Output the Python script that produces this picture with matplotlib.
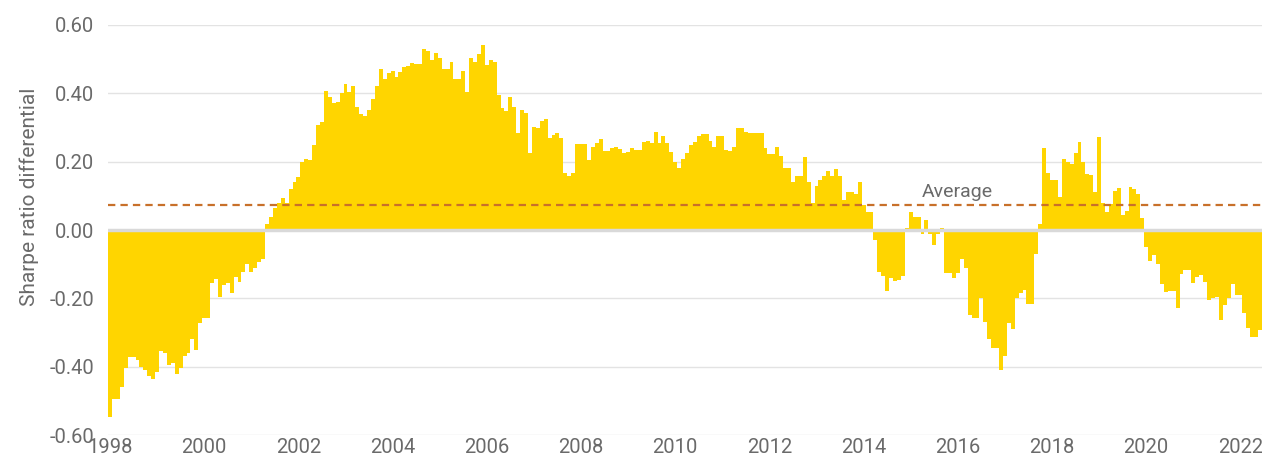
import matplotlib.pyplot as plt
import numpy as np

# monthly values, Jan 1998 .. Jun 2022
sharpe_diff = [
    -0.546, -0.496, -0.496, -0.459, -0.405, -0.371, -0.371, -0.38, -0.40, -0.41,
    -0.427, -0.437, -0.415, -0.354, -0.36, -0.395, -0.39, -0.42, -0.405, -0.37,
    -0.36, -0.32, -0.35, -0.273, -0.258, -0.258, -0.156, -0.144, -0.195, -0.161,
    -0.156, -0.183, -0.138, -0.151, -0.122, -0.10, -0.122, -0.112, -0.093, -0.086,
    0.017, 0.039, 0.065, 0.078, 0.093, 0.08, 0.119, 0.141, 0.156, 0.198,
    0.207, 0.205, 0.249, 0.307, 0.317, 0.408, 0.39, 0.371, 0.376, 0.401,
    0.426, 0.404, 0.421, 0.359, 0.339, 0.334, 0.351, 0.383, 0.421, 0.47,
    0.441, 0.459, 0.466, 0.449, 0.462, 0.476, 0.48, 0.488, 0.485, 0.485,
    0.529, 0.525, 0.498, 0.519, 0.503, 0.471, 0.471, 0.493, 0.441, 0.441,
    0.466, 0.405, 0.503, 0.493, 0.515, 0.541, 0.483, 0.498, 0.493, 0.395,
    0.356, 0.348, 0.39, 0.359, 0.285, 0.351, 0.341, 0.226, 0.301, 0.298,
    0.32, 0.324, 0.268, 0.278, 0.283, 0.268, 0.168, 0.158, 0.168, 0.252,
    0.252, 0.252, 0.205, 0.242, 0.254, 0.265, 0.231, 0.231, 0.239, 0.244,
    0.236, 0.224, 0.227, 0.239, 0.234, 0.234, 0.257, 0.261, 0.254, 0.288,
    0.256, 0.275, 0.254, 0.229, 0.2, 0.182, 0.207, 0.224, 0.249, 0.257,
    0.275, 0.28, 0.28, 0.261, 0.244, 0.275, 0.275, 0.234, 0.23, 0.244,
    0.298, 0.3, 0.288, 0.285, 0.285, 0.285, 0.283, 0.239, 0.222, 0.222,
    0.244, 0.216, 0.182, 0.182, 0.141, 0.158, 0.158, 0.213, 0.141, 0.078,
    0.129, 0.146, 0.158, 0.174, 0.158, 0.178, 0.158, 0.088, 0.11, 0.11,
    0.105, 0.141, 0.073, 0.054, 0.054, -0.029, -0.122, -0.135, -0.178, -0.141,
    -0.15, -0.146, -0.135, 0.005, 0.052, 0.037, 0.037, -0.012, 0.029, -0.012,
    -0.044, -0.012, 0.005, -0.127, -0.127, -0.141, -0.127, -0.086, -0.112, -0.249,
    -0.258, -0.258, -0.2, -0.268, -0.32, -0.346, -0.346, -0.41, -0.37, -0.273,
    -0.29, -0.2, -0.185, -0.176, -0.217, -0.217, -0.07, 0.017, 0.239, 0.168,
    0.146, 0.146, 0.098, 0.207, 0.2, 0.192, 0.224, 0.257, 0.198, 0.163,
    0.161, 0.112, 0.271, 0.08, 0.054, 0.076, 0.114, 0.122, 0.045, 0.057,
    0.127, 0.12, 0.105, 0.034, -0.049, -0.09, -0.073, -0.10, -0.158, -0.182,
    -0.179, -0.179, -0.227, -0.13, -0.117, -0.117, -0.156, -0.137, -0.132, -0.151,
    -0.205, -0.2, -0.195, -0.263, -0.22, -0.2, -0.158, -0.19, -0.19, -0.244,
    -0.288, -0.314, -0.314, -0.293,
]
average = 0.073
year_labels = [str(y) for y in range(1998, 2023, 2)]

plt.rcParams['font.family'] = ['Roboto', 'DejaVu Sans']
grey = '#6a6a6a'

fig = plt.figure(figsize=(12.62, 4.62), dpi=100)
ax = fig.add_axes([0.0856, 0.0584, 0.9144, 0.8875])

x = np.arange(len(sharpe_diff))
ax.bar(x, sharpe_diff, width=1.0, color='#FFD500', linewidth=0, zorder=2)
ax.axhline(0, color='#d9d9d9', linewidth=2.5, zorder=3)
ax.axhline(average, color='#c8702a', linewidth=1.6, linestyle=(0, (3.3, 2.3)), zorder=4)
ax.text(216, 0.086, 'Average', color=grey, fontsize=14, ha='center', va='bottom')

ax.set_xlim(-0.5, len(sharpe_diff) - 0.5)
ax.set_ylim(-0.6, 0.6)
ax.set_yticks(np.arange(-0.6, 0.61, 0.2))
ax.set_yticklabels(['%.2f' % v for v in np.arange(-0.6, 0.61, 0.2)])
ax.set_xticks(np.arange(0, len(sharpe_diff), 24))
ax.set_xticklabels(year_labels)
ax.grid(axis='y', color='#e3e3e3', linewidth=1, zorder=0)
ax.set_axisbelow(True)
ax.tick_params(length=0, labelsize=14.5, colors=grey, pad=10)
ax.tick_params(axis='x', pad=2)
for s in ax.spines.values():
    s.set_visible(False)
ax.set_ylabel('Sharpe ratio differential', color=grey, fontsize=15)
ax.yaxis.set_label_coords(-0.0595, 0.58)

fig.savefig('out.png', dpi=100)
